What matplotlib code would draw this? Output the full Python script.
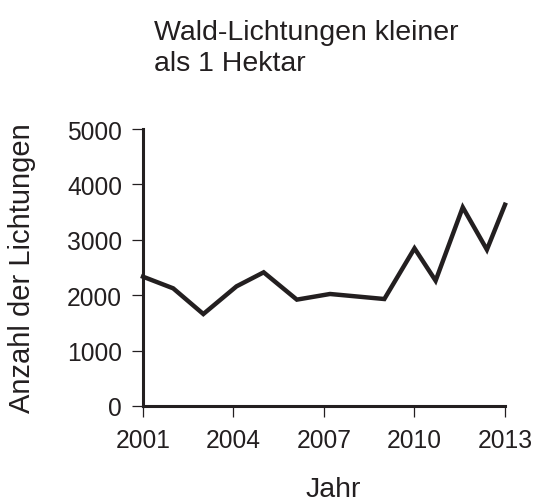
import matplotlib
matplotlib.use("Agg")
import matplotlib.pyplot as plt

plt.rcParams["font.family"] = ["Liberation Sans", "DejaVu Sans"]

# values (x positions as drawn)
years = [2001, 2002, 2003, 2004.1, 2005, 2006.1, 2007.2, 2009, 2010, 2010.7, 2011.6, 2012.4, 2013]
clearings = [2334, 2124, 1660, 2160, 2413, 1920, 2022, 1931, 2846, 2262, 3586, 2822, 3633]

xticks = [2001, 2004, 2007, 2010, 2013]
yticks = [0, 1000, 2000, 3000, 4000, 5000]

ink = "#231f20"

fig = plt.figure(figsize=(5.34, 5.02), dpi=100)
ax = fig.add_axes([143 / 534, 1 - 407 / 502, (505 - 143) / 534, (407 - 130) / 502])

ax.plot(years, clearings, color=ink, lw=3.2, solid_joinstyle="miter", clip_on=False)

ax.set_xlim(2001, 2013)
ax.set_ylim(0, 5000)
ax.set_xticks(xticks)
ax.set_yticks(yticks)

for s in ["top", "right"]:
    ax.spines[s].set_visible(False)
for s in ["left", "bottom"]:
    ax.spines[s].set_linewidth(2.2)
    ax.spines[s].set_color(ink)

ax.tick_params(axis="both", direction="out", length=8, width=0.9, colors=ink,
               labelsize=17.7, labelcolor=ink)
ax.tick_params(axis="x", pad=8)
ax.tick_params(axis="y", pad=7)

fig.text(22 / 534, 1 - 268 / 502, "Anzahl der Lichtungen", rotation=90,
         ha="center", va="center", fontsize=21, color=ink)
fig.text(333 / 534, 1 - 497 / 502, "Jahr", ha="center", va="baseline",
         fontsize=20.5, color=ink)
fig.text(154 / 534, 1 - 71 / 502, "Wald-Lichtungen kleiner\nals 1 Hektar",
         ha="left", va="baseline", fontsize=20.5, color=ink, linespacing=1.25)

fig.savefig("out.png", dpi=100)
